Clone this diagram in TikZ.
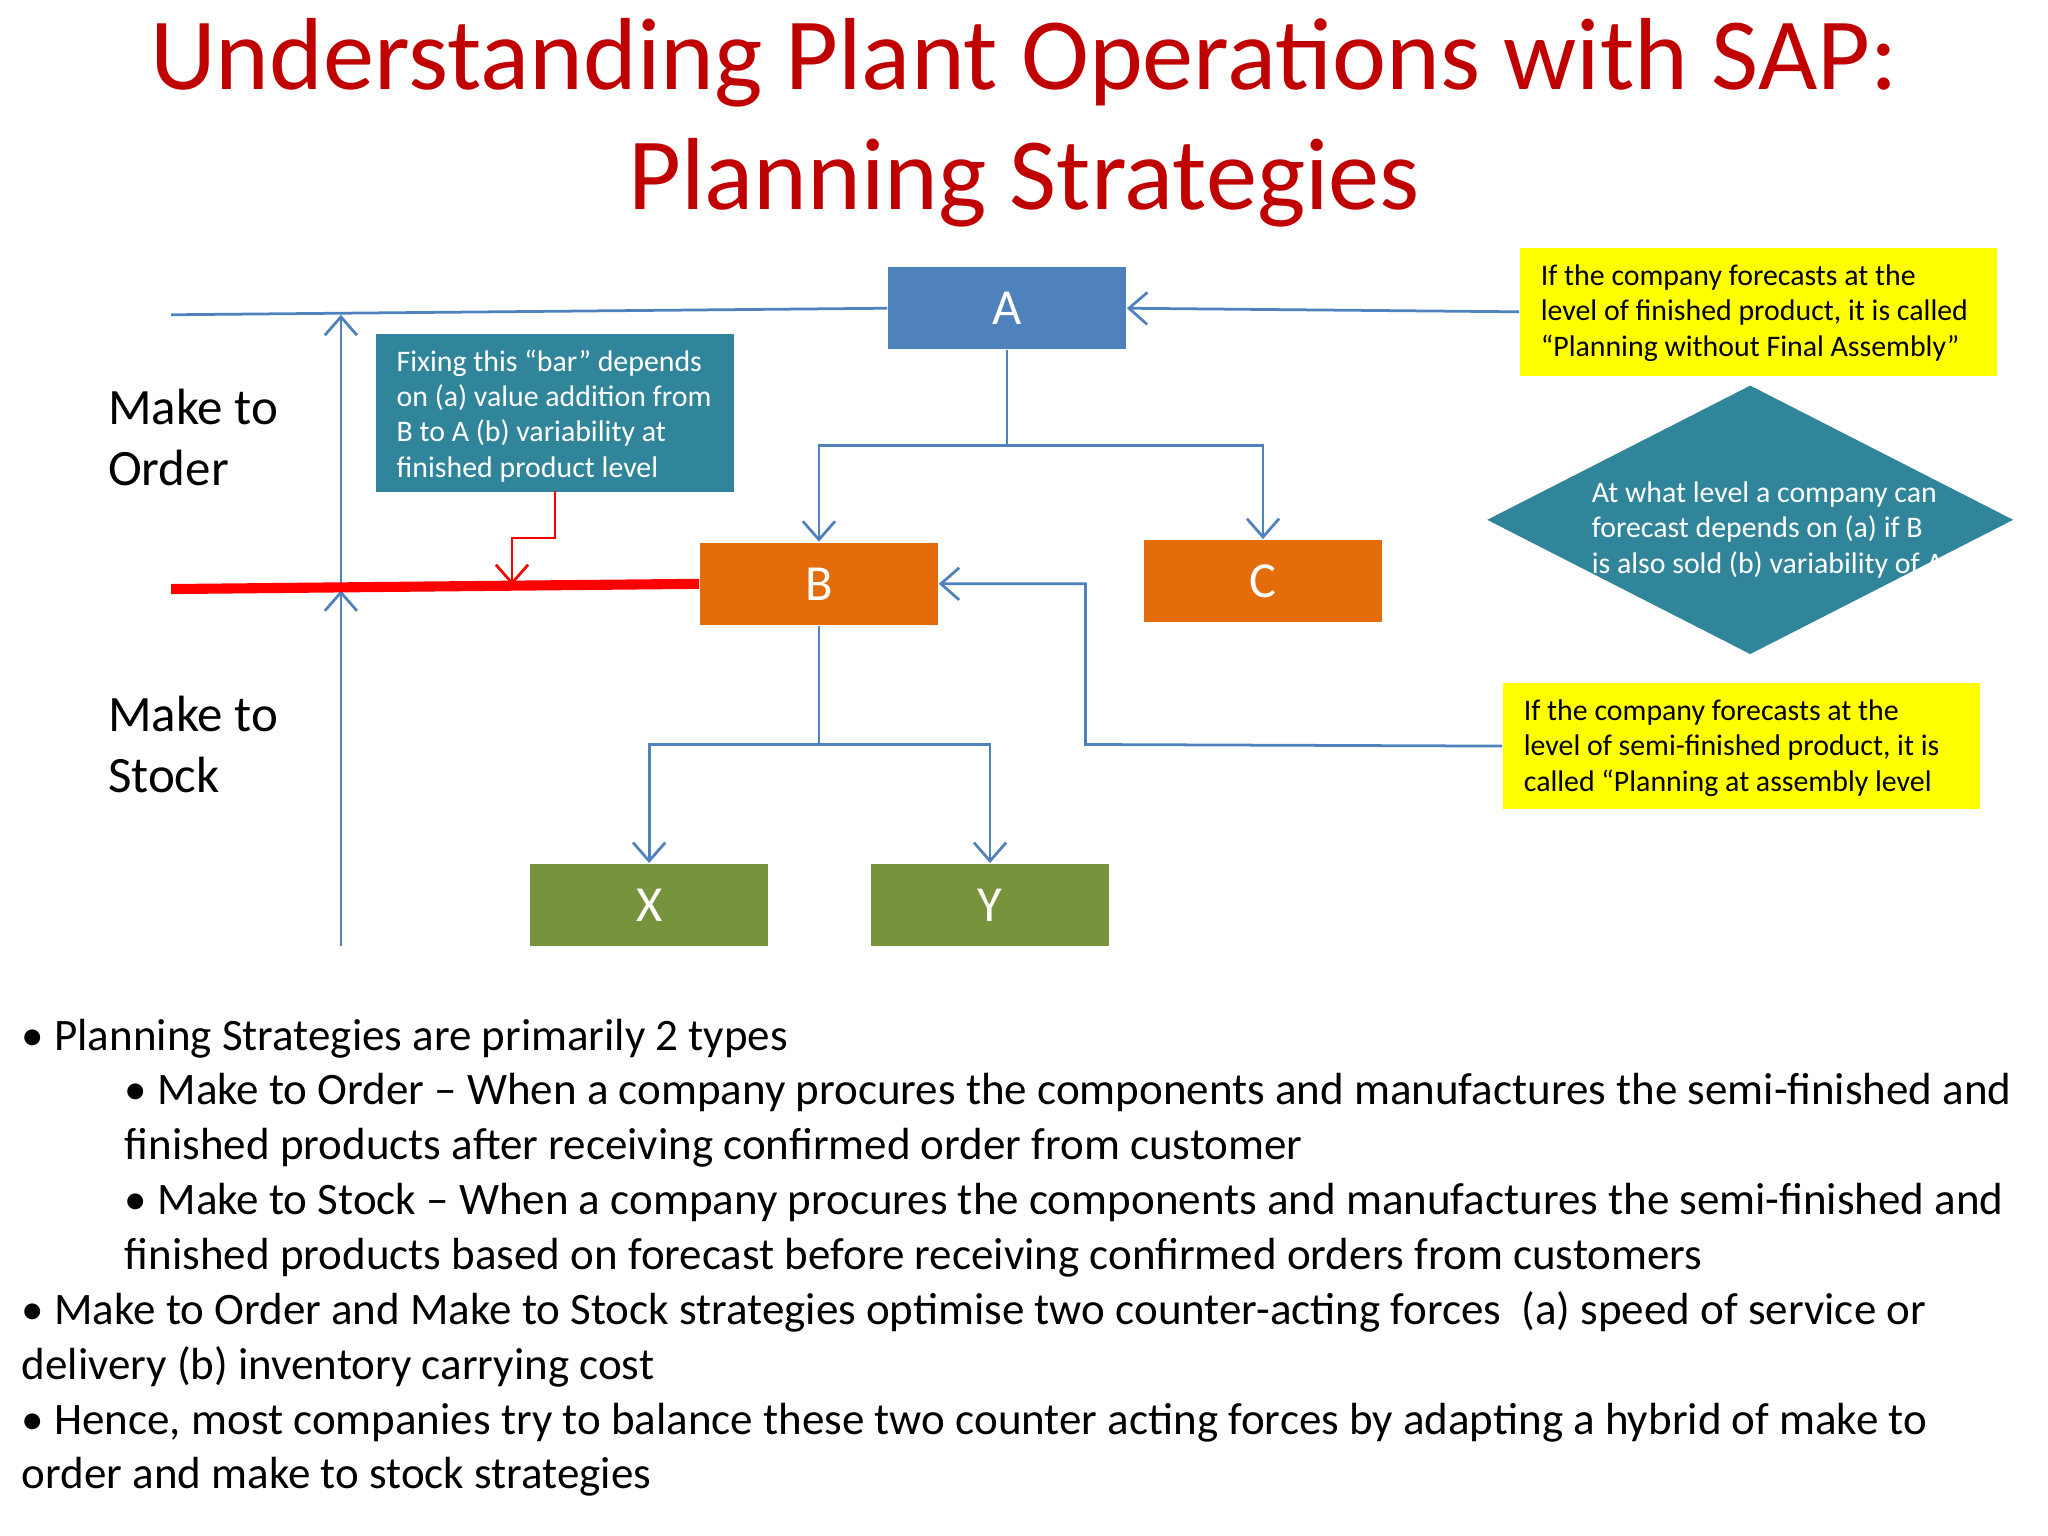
\documentclass[tikz,border=0pt]{standalone}
\usepackage{fontspec}
\setmainfont{Carlito}
\usetikzlibrary{shapes.geometric,arrows.meta}
\definecolor{ttl}{RGB}{192,0,0}
\definecolor{bl}{RGB}{79,129,189}
\definecolor{org}{RGB}{228,108,10}
\definecolor{grn}{RGB}{119,147,60}
\definecolor{tealc}{RGB}{49,133,155}
\definecolor{yel}{RGB}{255,255,0}
\tikzset{
 box/.style={draw=none,minimum width=1.82cm,minimum height=0.63cm,text=white,font=\fontsize{11}{13}\selectfont},
 conn/.style={draw=bl,line width=0.6pt},
 arr/.style={conn,-{Straight Barb[length=4pt,width=7pt]}},
 small/.style={anchor=north west,align=left,inner sep=0pt,font=\fontsize{6.5}{7.7}\selectfont},
 bul/.style={anchor=base west,inner sep=0pt,font=\fontsize{9.8}{12}\selectfont},
 lab/.style={anchor=base west,inner sep=0pt,font=\fontsize{11.1}{13}\selectfont}
}
\begin{document}
\begin{tikzpicture}[x=0.01cm,y=-0.01cm]
\useasboundingbox (0,0) rectangle (1568,1176);
\node[text=ttl,font=\fontsize{22.3}{27}\selectfont,inner sep=0pt] (t1) at (784,48) {Understanding Plant Operations with SAP:};
\node[text=ttl,font=\fontsize{22.3}{27}\selectfont,inner sep=0pt] (t2) at (784,140) {Planning Strategies};
\node[box,fill=bl] (A) at (771,236) {A};
\node[box,fill=org] (B) at (627,447) {B};
\node[box,fill=org] (C) at (967,445) {C};
\node[box,fill=grn] (X) at (497,693) {X};
\node[box,fill=grn] (Y) at (758,693) {Y};
\coordinate (L1) at (131,241);
\coordinate (L2) at (131,451);
\coordinate (v0) at (261,724);
\coordinate (v1) at (261,452);
\coordinate (v2) at (261,241);
\draw[conn] (L1) -- (A.west);
\draw[arr] (v0) -- (v1);
\draw[arr] (v1) -- (v2);
\draw[red,line width=2.2pt] (L2) -- (B.west);
\node[fill=tealc,anchor=north west,minimum width=2.74cm,minimum height=1.21cm,inner sep=0pt] (F) at (287,255) {};
\node[small,text=white] (Ft) at (303,267) {Fixing this “bar” depends\\on (a) value addition from\\B to A (b) variability at\\finished product level};
\coordinate (r0) at (425,376);
\coordinate (r1) at (425,412);
\coordinate (r2) at (392,412);
\coordinate (r3) at (392,448);
\draw[red,line width=0.6pt,-{Straight Barb[length=4pt,width=7pt]}] (r0) -- (r1) -- (r2) -- (r3);
\coordinate (ja) at (771,341);
\draw[conn] (A.south) -- (ja);
\draw[arr] (ja) -| (B.north);
\draw[arr] (ja) -| (C.north);
\coordinate (jb) at (627,570);
\draw[conn] (B.south) -- (jb);
\draw[arr] (jb) -| (X.north);
\draw[arr] (jb) -| (Y.north);
\node[fill=yel,anchor=north west,minimum width=3.65cm,minimum height=0.98cm,inner sep=0pt] (Y1) at (1163,189) {};
\node[small] (Y1t) at (1179,202) {If the company forecasts at the\\level of finished product, it is called\\“Planning without Final Assembly”};
\draw[arr] (Y1.west) -- (A.east);
\node[diamond,fill=tealc,minimum width=4.03cm,minimum height=2.06cm,inner sep=0pt,aspect=2] (D) at (1340,398) {};
\node[small,text=white] (Dt) at (1218,368) {At what level a company can\\forecast depends on (a) if B\\is also sold (b) variability of A};
\node[fill=yel,anchor=north west,minimum width=3.65cm,minimum height=0.97cm,inner sep=0pt] (Y2) at (1150,522) {};
\node[small] (Y2t) at (1166,535) {If the company forecasts at the\\level of semi-finished product, it is\\called “Planning at assembly level};
\coordinate (k1) at (831,570);
\coordinate (k2) at (831,447);
\draw[arr] (Y2.west) -- (k1) -- (k2) -- (B.east);
\node[lab] (m1) at (82,325) {Make to};
\node[lab] (m2) at (82,372) {Order};
\node[lab] (m3) at (82,560) {Make to};
\node[lab] (m4) at (82,607) {Stock};
\node[bul] (b1) at (16,804) {• Planning Strategies are primarily 2 types};
\node[bul] (b2) at (95,846) {• Make to Order – When a company procures the components and manufactures the semi-finished and};
\node[bul] (b3) at (95,888) {finished products after receiving confirmed order from customer};
\node[bul] (b4) at (95,930) {• Make to Stock – When a company procures the components and manufactures the semi-finished and};
\node[bul] (b5) at (95,972) {finished products based on forecast before receiving confirmed orders from customers};
\node[bul] (b6) at (16,1014) {• Make to Order and Make to Stock strategies optimise two counter-acting forces \ (a) speed of service or};
\node[bul] (b7) at (16,1056) {delivery (b) inventory carrying cost};
\node[bul] (b8) at (16,1098) {• Hence, most companies try to balance these two counter acting forces by adapting a hybrid of make to};
\node[bul] (b9) at (16,1140) {order and make to stock strategies};
\end{tikzpicture}
\end{document}
